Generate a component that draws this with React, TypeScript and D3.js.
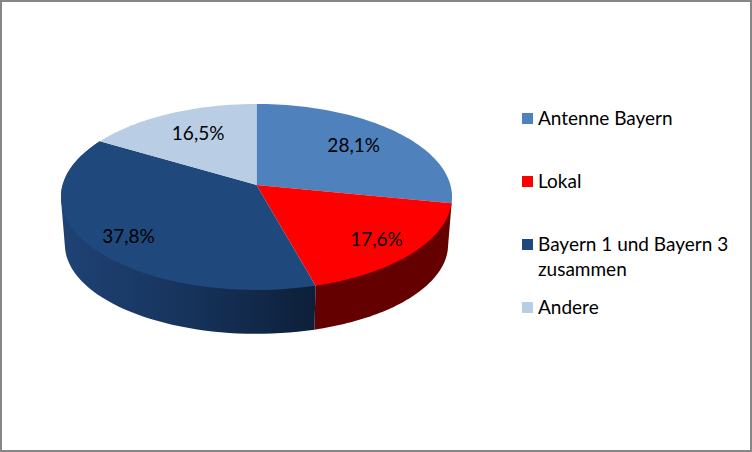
import { useRef, useEffect } from "react";
import * as d3 from "d3";

const categories = ["Antenne Bayern", "Lokal", "Bayern 1 und Bayern 3", "Andere"];
const shares = [28.1, 17.6, 37.8, 16.5];
const labels = ["28,1%", "17,6%", "37,8%", "16,5%"];
const topColors = ["#4f81bd", "#ff0000", "#1f497d", "#b9cde5"];
// only the two front slices show a side wall
const wallColors = [null, "#640000", "url(#wallBlue)", null];
// small nudges of the value labels, relative to the slice centre
const labelNudge = [[-2, -1.5], [14, 8], [-14, 10], [4, 0]];

const W = 752;
const H = 452;
const FONT = 'Lato, sans-serif';
const FONT_SIZE = "19px";

// tilted disc: perspective from the disc plane to the screen
function projector(cx: number, cy: number, a: number, b: number, k: number) {
  return (theta: number, r = 1): [number, number] => {
    const x = Math.sin(theta) * r;
    const z = -Math.cos(theta) * r;
    const w = 1 - k * z;
    return [cx + (a * x) / w, cy + (b * z) / w];
  };
}

export default function App() {
  const svgRef = useRef<SVGSVGElement>(null);

  useEffect(() => {
    if (!svgRef.current) return;
    const svg = d3.select(svgRef.current);
    svg.selectAll("*").remove();

    const defs = svg.append("defs");
    const grad = defs.append("linearGradient")
      .attr("id", "wallBlue")
      .attr("gradientUnits", "userSpaceOnUse")
      .attr("x1", 62).attr("x2", 316).attr("y1", 0).attr("y2", 0);
    grad.append("stop").attr("offset", "0").attr("stop-color", "#1f4275");
    grad.append("stop").attr("offset", "0.5").attr("stop-color", "#16335b");
    grad.append("stop").attr("offset", "1").attr("stop-color", "#0d1f39");

    svg.append("rect")
      .attr("x", 1).attr("y", 1)
      .attr("width", W - 2).attr("height", H - 2)
      .attr("fill", "#fff")
      .attr("stroke", "#868686")
      .attr("stroke-width", 2);

    const top = projector(256.5, 185, 193.9, 91.45, 0.129);
    const bottom = projector(256.5, 233, 190, 87.8, 0.129);

    const arcs = d3.pie<number>().sort(null).value((d) => d)(shares);
    const line = d3.line();
    const steps = (d: d3.PieArcDatum<number>) =>
      d3.range(0, 61).map((i) => d.startAngle + ((d.endAngle - d.startAngle) * i) / 60);

    // side walls first, the top face covers whatever lies behind it
    svg.append("g")
      .selectAll("path")
      .data(arcs.filter((d) => wallColors[d.index]))
      .join("path")
      .attr("d", (d) => {
        const s = steps(d);
        const hull = d3.polygonHull([...s.map((t) => top(t)), ...s.map((t) => bottom(t))]);
        return line(hull as [number, number][]) + "Z";
      })
      .attr("fill", (d) => wallColors[d.index] as string);

    svg.append("g")
      .selectAll("path")
      .data(arcs)
      .join("path")
      .attr("d", (d) => line([top(0, 0), ...steps(d).map((t) => top(t))]) + "Z")
      .attr("fill", (_, i) => topColors[i]);

    svg.append("g")
      .selectAll("text")
      .data(arcs)
      .join("text")
      .attr("transform", (d, i) => {
        const [x, y] = top((d.startAngle + d.endAngle) / 2, 0.7);
        return `translate(${x + labelNudge[i][0]},${y + labelNudge[i][1]})`;
      })
      .attr("text-anchor", "middle")
      .attr("dy", "0.35em")
      .style("font-family", FONT)
      .style("font-size", FONT_SIZE)
      .style("fill", "#000")
      .text((_, i) => labels[i]);

    const legendY = d3.scalePoint<string>().domain(categories).range([118.5, 307.5]);
    const legend = svg.append("g")
      .selectAll("g")
      .data(categories)
      .join("g")
      .attr("transform", (d) => `translate(522,${legendY(d)})`);

    legend.append("rect")
      .attr("y", -5.5)
      .attr("width", 11)
      .attr("height", 11)
      .attr("fill", (_, i) => topColors[i]);

    legend.append("text")
      .attr("x", 16)
      .attr("y", 6.5)
      .style("font-family", FONT)
      .style("font-size", FONT_SIZE)
      .style("fill", "#000")
      .text((d) => d);

    svg.append("text")
      .attr("x", 538)
      .attr("y", 276)
      .style("font-family", FONT)
      .style("font-size", FONT_SIZE)
      .style("fill", "#000")
      .text("zusammen");
  }, []);

  return (
    <svg
      ref={svgRef}
      width={W}
      height={H}
      style={{ position: "absolute", left: 0, top: 0, display: "block" }}
    />
  );
}
